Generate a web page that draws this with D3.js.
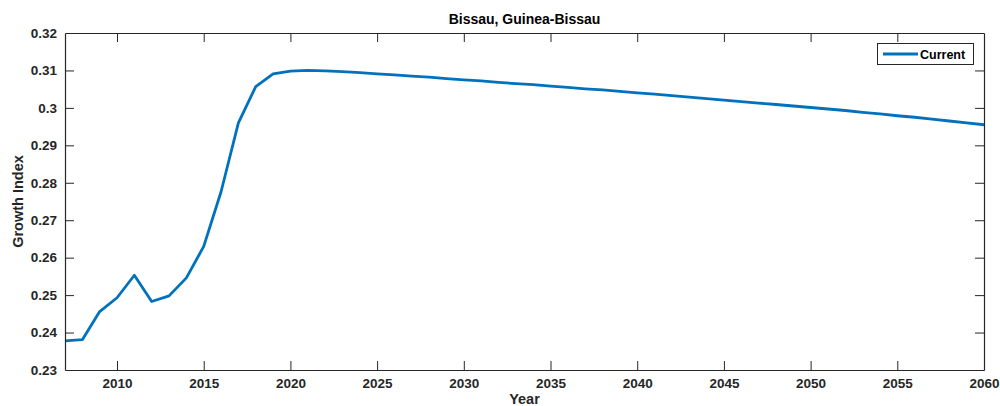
<!DOCTYPE html>
<html>
<head>
<meta charset="utf-8">
<script src="https://cdn.jsdelivr.net/npm/d3@7"></script>
<style>
  html, body { margin: 0; padding: 0; background: #fff; }
  svg { display: block; font-family: "Liberation Sans", Arial, Helvetica, sans-serif; }
</style>
</head>
<body>
<svg id="chart" width="1000" height="406"></svg>
<script>
const title = "Bissau, Guinea-Bissau";
const xLabel = "Year";
const yLabel = "Growth Index";
const seriesName = "Current";

const years = d3.range(2007, 2061);
const values = [
  0.2378, 0.2381, 0.2456, 0.2493, 0.2553, 0.2483, 0.2498, 0.2546, 0.2630, 0.2776,
  0.2960, 0.3057, 0.3091, 0.3098, 0.3100, 0.3099, 0.3097, 0.3094, 0.3091, 0.3088,
  0.3085, 0.3082, 0.3078, 0.3075, 0.3072, 0.3068, 0.3065, 0.3062, 0.3058, 0.3055,
  0.3051, 0.3048, 0.3044, 0.3040, 0.3037, 0.3033, 0.3029, 0.3025, 0.3021, 0.3017,
  0.3013, 0.3009, 0.3005, 0.3001, 0.2997, 0.2993, 0.2988, 0.2984, 0.2979, 0.2975,
  0.2970, 0.2965, 0.2960, 0.2955
];

const xTicks = [2010, 2015, 2020, 2025, 2030, 2035, 2040, 2045, 2050, 2055, 2060];
const yTicks = [0.23, 0.24, 0.25, 0.26, 0.27, 0.28, 0.29, 0.30, 0.31, 0.32];
const xDomain = [2007, 2060];
const yDomain = [0.23, 0.32];

const margin = { left: 65, right: 16, top: 33, bottom: 36 };
const W = 1000, H = 406;
const axisColor = "#262626";
const lineColor = "#0072BD";

const svg = d3.select("#chart");
const x = d3.scaleLinear().domain(xDomain).range([margin.left, W - margin.right]);
const y = d3.scaleLinear().domain(yDomain).range([H - margin.bottom, margin.top]);

const data = years.map((yr, i) => ({ yr, v: values[i] }));

// line
svg.append("path")
  .datum(data)
  .attr("fill", "none")
  .attr("stroke", lineColor)
  .attr("stroke-width", 2.8)
  .attr("stroke-linejoin", "round")
  .attr("d", d3.line().x(d => x(d.yr)).y(d => y(d.v)));

const tickLen = 9;
const fmtY = d => (Math.round(d * 100) / 100).toString().replace(/^0\.30$/, "0.3");

// bottom axis
const gB = svg.append("g").attr("transform", `translate(0,${y(yDomain[0])})`)
  .call(d3.axisBottom(x).tickValues(xTicks).tickFormat(d3.format("d")).tickSizeInner(-tickLen).tickSizeOuter(0).tickPadding(8));
// top axis
const gT = svg.append("g").attr("transform", `translate(0,${y(yDomain[1])})`)
  .call(d3.axisTop(x).tickValues(xTicks).tickFormat("").tickSizeInner(-tickLen).tickSizeOuter(0));
// left axis
const gL = svg.append("g").attr("transform", `translate(${x(xDomain[0])},0)`)
  .call(d3.axisLeft(y).tickValues(yTicks).tickFormat(d => d3.format("")(+d.toFixed(2))).tickSizeInner(-tickLen).tickSizeOuter(0).tickPadding(8));
// right axis
const gR = svg.append("g").attr("transform", `translate(${x(xDomain[1])},0)`)
  .call(d3.axisRight(y).tickValues(yTicks).tickFormat("").tickSizeInner(-tickLen).tickSizeOuter(0));

[gB, gT, gL, gR].forEach(g => {
  g.select(".domain").attr("stroke", axisColor).attr("stroke-width", 1.2);
  g.selectAll(".tick line").attr("stroke", axisColor).attr("stroke-width", 1);
  g.selectAll(".tick text")
    .attr("fill", axisColor)
    .attr("font-size", 13.5)
    .attr("font-weight", "bold")
    .attr("font-family", "'Liberation Sans', Arial, sans-serif");
});
// hide ticks at the box corners
gB.selectAll(".tick line").filter(d => d === xDomain[1]).remove();
gT.selectAll(".tick line").filter(d => d === xDomain[1]).remove();
gL.selectAll(".tick line").filter(d => d === yDomain[0] || d === yDomain[1]).remove();
gR.selectAll(".tick line").filter(d => d === yDomain[0] || d === yDomain[1]).remove();

// title
svg.append("text")
  .attr("x", (x.range()[0] + x.range()[1]) / 2)
  .attr("y", 24)
  .attr("text-anchor", "middle")
  .attr("font-size", 14)
  .attr("font-weight", "bold")
  .attr("fill", "#000")
  .text(title);

// x label
svg.append("text")
  .attr("x", (x.range()[0] + x.range()[1]) / 2)
  .attr("y", 404)
  .attr("text-anchor", "middle")
  .attr("font-size", 14.5)
  .attr("font-weight", "bold")
  .attr("fill", axisColor)
  .text(xLabel);

// y label
svg.append("text")
  .attr("transform", `translate(23,${(y.range()[0] + y.range()[1]) / 2}) rotate(-90)`)
  .attr("text-anchor", "middle")
  .attr("font-size", 14.5)
  .attr("font-weight", "bold")
  .attr("fill", axisColor)
  .text(yLabel);

// legend
const lg = svg.append("g");
lg.append("rect")
  .attr("x", 877.5).attr("y", 43.5).attr("width", 96).attr("height", 21)
  .attr("fill", "#fff").attr("stroke", axisColor).attr("stroke-width", 1);
lg.append("line")
  .attr("x1", 883).attr("x2", 918).attr("y1", 54).attr("y2", 54)
  .attr("stroke", lineColor).attr("stroke-width", 2.8);
lg.append("text")
  .attr("x", 920).attr("y", 58.5)
  .attr("font-size", 12.5).attr("font-weight", "bold").attr("fill", "#000")
  .text(seriesName);
</script>
</body>
</html>
